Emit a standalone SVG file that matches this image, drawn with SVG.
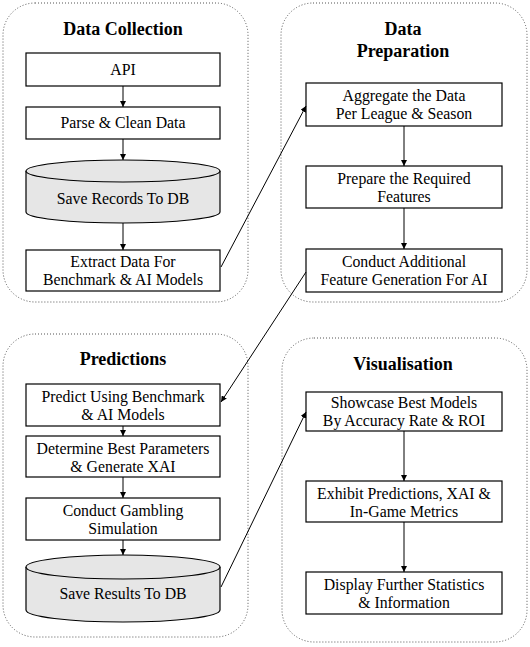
<svg xmlns="http://www.w3.org/2000/svg" width="530" height="647" viewBox="0 0 530 647">
<defs>
<marker id="ah" viewBox="0 0 10 10" refX="10" refY="5" markerWidth="6" markerHeight="6" markerUnits="userSpaceOnUse" orient="auto">
<path d="M0,0 L10,5 L0,10 z" fill="#000"/>
</marker>
</defs>
<style>
.cont{fill:#fff;stroke:#555;stroke-width:1;stroke-dasharray:1 2}
.box{fill:#fff;stroke:#000;stroke-width:1.2}
.cyl{fill:#e6e6e6;stroke:#000;stroke-width:1.2}
.t{font-family:"Liberation Serif","Times New Roman",serif;font-size:15.8px;fill:#000;text-anchor:middle}
.h{font-family:"Liberation Serif","Times New Roman",serif;font-size:18px;font-weight:bold;fill:#000;text-anchor:middle}
.c{stroke:#000;stroke-width:1;fill:none;marker-end:url(#ah)}
</style>
<rect width="530" height="647" fill="#fff"/>

<g id="data-collection">
<rect class="cont" x="3" y="3" width="245" height="299" rx="32"/>
<text class="h" x="123" y="35">Data Collection</text>
</g>
<g id="data-preparation">
<rect class="cont" x="281" y="3" width="246" height="299" rx="32"/>
<text class="h" x="403" y="35">Data</text>
<text class="h" x="403" y="57">Preparation</text>
</g>
<g id="predictions">
<rect class="cont" x="3" y="334" width="245" height="303" rx="32"/>
<text class="h" x="123" y="365">Predictions</text>
</g>
<g id="visualisation">
<rect class="cont" x="282" y="338" width="245" height="304" rx="32"/>
<text class="h" x="403" y="370">Visualisation</text>
</g>

<g id="api"><rect class="box" x="26" y="53" width="194" height="33"/><text class="t" x="123" y="75">API</text></g>
<g id="parse"><rect class="box" x="26" y="107" width="194" height="32"/><text class="t" x="123" y="128">Parse &amp; Clean Data</text></g>
<g id="save-records">
<path class="cyl" d="M26,171 A97,11 0 0 1 220,171 L220,212 A97,11 0 0 1 26,212 Z"/>
<path class="cyl" d="M26,171 A97,11 0 0 0 220,171" fill="none"/>
<text class="t" x="123" y="204">Save Records To DB</text>
</g>
<g id="extract"><rect class="box" x="26" y="250" width="194" height="41"/><text class="t" x="123" y="267">Extract Data For</text><text class="t" x="123" y="285">Benchmark &amp; AI Models</text></g>

<g id="aggregate"><rect class="box" x="306" y="83" width="196" height="43"/><text class="t" x="404" y="101">Aggregate the Data</text><text class="t" x="404" y="119">Per League &amp; Season</text></g>
<g id="prepare"><rect class="box" x="306" y="166" width="196" height="42"/><text class="t" x="404" y="184">Prepare the Required</text><text class="t" x="404" y="202">Features</text></g>
<g id="additional"><rect class="box" x="306" y="249" width="196" height="43"/><text class="t" x="404" y="267">Conduct Additional</text><text class="t" x="404" y="285">Feature Generation For AI</text></g>

<g id="predict"><rect class="box" x="26" y="384" width="194" height="42"/><text class="t" x="123" y="402">Predict Using Benchmark</text><text class="t" x="123" y="420">&amp; AI Models</text></g>
<g id="determine"><rect class="box" x="26" y="436" width="194" height="41"/><text class="t" x="123" y="454">Determine Best Parameters</text><text class="t" x="123" y="472">&amp; Generate XAI</text></g>
<g id="gambling"><rect class="box" x="26" y="498" width="194" height="42"/><text class="t" x="123" y="516">Conduct Gambling</text><text class="t" x="123" y="534">Simulation</text></g>
<g id="save-results">
<path class="cyl" d="M26,567 A97,12 0 0 1 220,567 L220,610 A97,12 0 0 1 26,610 Z"/>
<path class="cyl" d="M26,567 A97,12 0 0 0 220,567" fill="none"/>
<text class="t" x="123" y="599">Save Results To DB</text>
</g>

<g id="showcase"><rect class="box" x="306" y="392" width="196" height="39"/><text class="t" x="404" y="408">Showcase Best Models</text><text class="t" x="404" y="426">By Accuracy Rate &amp; ROI</text></g>
<g id="exhibit"><rect class="box" x="306" y="481" width="196" height="41"/><text class="t" x="404" y="499">Exhibit Predictions, XAI &amp;</text><text class="t" x="404" y="517">In-Game Metrics</text></g>
<g id="display"><rect class="box" x="306" y="572" width="196" height="42"/><text class="t" x="404" y="590">Display Further Statistics</text><text class="t" x="404" y="608">&amp; Information</text></g>

<g id="connectors">
<line class="c" x1="123" y1="86" x2="123" y2="107"/>
<line class="c" x1="123" y1="139" x2="123" y2="160"/>
<line class="c" x1="123" y1="223" x2="123" y2="250"/>
<line class="c" x1="404" y1="126" x2="404" y2="166"/>
<line class="c" x1="404" y1="208" x2="404" y2="249"/>
<line class="c" x1="123" y1="426" x2="123" y2="436"/>
<line class="c" x1="123" y1="477" x2="123" y2="498"/>
<line class="c" x1="123" y1="540" x2="123" y2="555"/>
<line class="c" x1="404" y1="431" x2="404" y2="481"/>
<line class="c" x1="404" y1="522" x2="404" y2="572"/>
<line class="c" x1="221" y1="267" x2="306" y2="106"/>
<line class="c" x1="306" y1="272" x2="221" y2="402"/>
<line class="c" x1="221" y1="587" x2="306" y2="412"/>
</g>
</svg>
